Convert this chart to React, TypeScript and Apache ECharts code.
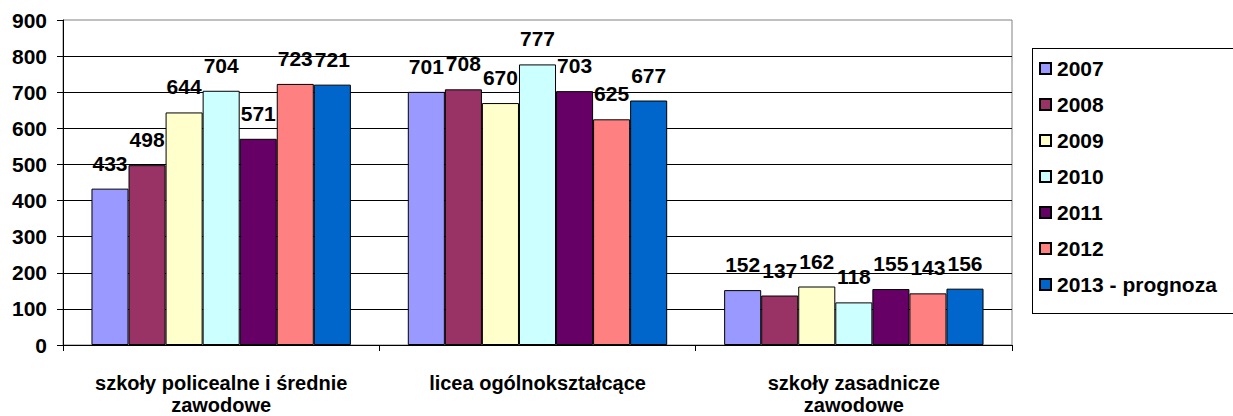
import React, { useEffect, useRef } from "react";
import * as echarts from "echarts";

const categories = [
  "szkoły policealne i średnie\nzawodowe",
  "licea ogólnokształcące",
  "szkoły zasadnicze\nzawodowe",
];
const seriesNames = ["2007", "2008", "2009", "2010", "2011", "2012", "2013 - prognoza"];
const seriesColors = ["#9999FF", "#993366", "#FFFFCC", "#CCFFFF", "#660066", "#FF8080", "#0066CC"];
const v2007 = [433, 701, 152];
const v2008 = [498, 708, 137];
const v2009 = [644, 670, 162];
const v2010 = [704, 777, 118];
const v2011 = [571, 703, 155];
const v2012 = [723, 625, 143];
const v2013 = [721, 677, 156];
const seriesValues = [v2007, v2008, v2009, v2010, v2011, v2012, v2013];

const FONT = "'Liberation Sans', Arial, sans-serif";

export default function App() {
  const ref = useRef<HTMLDivElement>(null);
  useEffect(() => {
    const chart = echarts.init(ref.current!, undefined, { renderer: "svg" });
    chart.setOption({
      animation: false,
      backgroundColor: "#ffffff",
      grid: {
        left: 63,
        top: 20,
        right: 221,
        bottom: 71,
        show: true,
        borderColor: "#808080",
        borderWidth: 1,
        containLabel: false,
        outerBoundsMode: "none",
      },
      legend: {
        orient: "vertical",
        left: 1039,
        top: 58,
        itemWidth: 11,
        itemHeight: 11,
        itemGap: 15,
        icon: "rect",
        padding: [0, 0, 0, 0],
        textStyle: { fontFamily: FONT, fontWeight: "bold", fontSize: 21, color: "#000", padding: [0, 0, 0, 1] },
        data: seriesNames,
      },
      xAxis: {
        type: "category",
        data: categories,
        axisLine: { lineStyle: { color: "#000", width: 1 } },
        axisTick: { show: true, length: 6, lineStyle: { color: "#000" } },
        axisLabel: {
          fontFamily: FONT,
          fontWeight: "bold",
          fontSize: 20,
          color: "#000",
          lineHeight: 22,
          margin: 27,
          interval: 0,
        },
      },
      yAxis: {
        type: "value",
        min: 0,
        max: 900,
        interval: 100,
        axisLine: { show: true, lineStyle: { color: "#000" } },
        axisTick: { show: true, length: 6, lineStyle: { color: "#000" } },
        axisLabel: { fontFamily: FONT, fontWeight: "bold", fontSize: 21, color: "#000", margin: 16 },
        splitLine: { show: true, showMaxLine: false, lineStyle: { color: "#000", width: 1 } },
      },
      series: seriesNames.map((name, i) => ({
        name,
        type: "bar",
        data: seriesValues[i],
        barGap: "0%",
        barCategoryGap: "18%",
        itemStyle: { color: seriesColors[i], borderColor: "#000", borderWidth: 1 },
        label: {
          show: true,
          position: "top",
          distance: 15,
          fontFamily: FONT,
          fontWeight: "bold",
          fontSize: 21,
          color: "#000",
        },
      })),
    });
    return () => chart.dispose();
  }, []);
  return (
    <div>
      <style>{`body{margin:0;}`}</style>
      <div ref={ref} style={{ width: 1233, height: 416 }} />
      <div
        style={{
          position: "absolute",
          left: 1032,
          top: 48,
          width: 210,
          height: 266,
          border: "1px solid #000",
          boxSizing: "border-box",
          pointerEvents: "none",
        }}
      />
    </div>
  );
}
